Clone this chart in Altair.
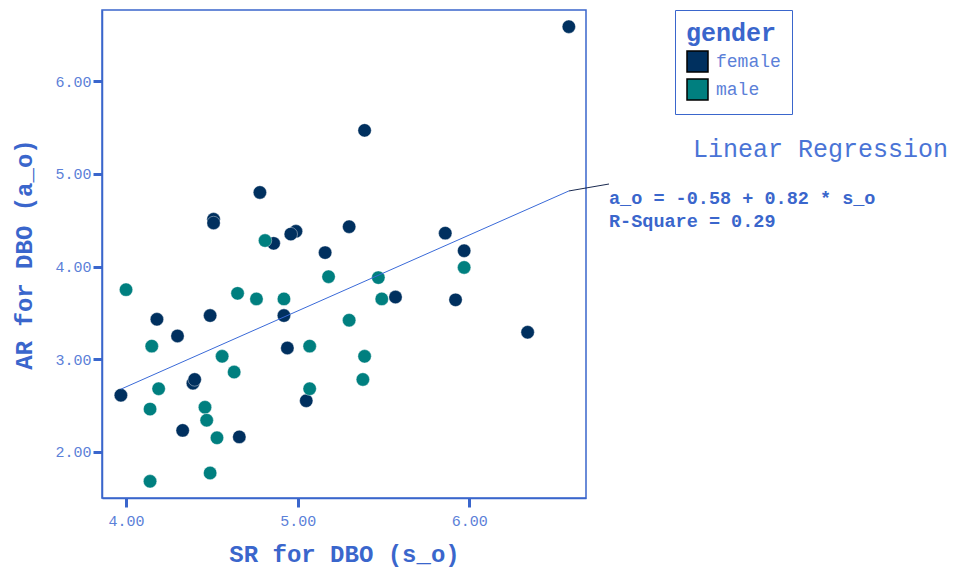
import altair as alt
import pandas as pd

# ---- data ----
female_s = [6.58, 5.39, 4.78, 4.51, 4.51, 4.99, 4.96, 4.86, 5.30, 5.16, 5.86, 5.97, 5.57,
            5.92, 6.34, 4.18, 4.49, 4.30, 4.92, 4.94, 4.39, 4.40, 3.97, 5.05, 4.33, 4.66]
female_a = [6.59, 5.47, 4.80, 4.51, 4.47, 4.38, 4.35, 4.25, 4.43, 4.15, 4.36, 4.17, 3.67,
            3.64, 3.29, 3.43, 3.47, 3.25, 3.47, 3.12, 2.74, 2.78, 2.61, 2.55, 2.23, 2.16]
male_s = [4.81, 4.00, 4.65, 4.76, 4.92, 5.18, 5.30, 4.15, 5.07, 4.56, 4.63, 4.19, 5.07,
          4.14, 4.46, 4.47, 4.53, 4.14, 4.49, 5.97, 5.47, 5.49, 5.39, 5.38]
male_a = [4.28, 3.75, 3.71, 3.65, 3.65, 3.89, 3.42, 3.14, 3.14, 3.03, 2.86, 2.68, 2.68,
          2.46, 2.48, 2.34, 2.15, 1.68, 1.77, 3.99, 3.88, 3.65, 3.03, 2.78]
genders = ["female", "male"]
intercept = -0.58
slope = 0.82
r_square = 0.29
x_ticks = [4, 5, 6]
y_ticks = [2, 3, 4, 5, 6]

NAVY = "#00305f"
TEAL = "#007f7f"
BLUE = "#3a66cc"
LIGHT = "#5b80d8"
FONT = "Liberation Mono"

df = pd.DataFrame({
    "s_o": female_s + male_s,
    "a_o": female_a + male_a,
    "gender": [genders[0]] * len(female_s) + [genders[1]] * len(male_s),
})

xmin, xmax = min(df["s_o"]), max(df["s_o"])
reg = pd.DataFrame({"s_o": [xmin, xmax], "a_o": [intercept + slope * xmin, intercept + slope * xmax]})
end = reg.tail(1)

xs = alt.Scale(domain=[3.86, 6.68], nice=False, zero=False)
ys = alt.Scale(domain=[1.5, 6.77], nice=False, zero=False)
X = alt.X("s_o:Q", scale=xs, title="SR for DBO (s_o)", axis=alt.Axis(values=x_ticks, format=".2f"))
Y = alt.Y("a_o:Q", scale=ys, title="AR for DBO (a_o)", axis=alt.Axis(values=y_ticks, format=".2f"))

points = alt.Chart(df).mark_circle(size=180, opacity=1, stroke="white", strokeWidth=0.4).encode(
    x=X, y=Y,
    color=alt.Color("gender:N", scale=alt.Scale(domain=genders, range=[NAVY, TEAL]),
                    legend=alt.Legend(title="gender", orient="none", legendX=573, legendY=0,
                                      symbolType="square", symbolSize=441,
                                      symbolStrokeColor="black", symbolStrokeWidth=1.5,
                                      symbolOpacity=1, padding=11, rowPadding=1,
                                      titlePadding=4, labelOffset=7,
                                      strokeColor=BLUE, fillColor="white",
                                      titleFont=FONT, titleFontSize=25, titleFontWeight="bold",
                                      titleColor=BLUE, labelFont=FONT, labelFontSize=18,
                                      labelColor=LIGHT)),
)

line = alt.Chart(reg).mark_line(color="#3a6ad8", strokeWidth=1).encode(x=X, y=Y)

leader = alt.Chart(end).mark_rule(color="#1a2a50", strokeWidth=1).encode(
    x=X, y=Y, x2=alt.value(507), y2=alt.value(174))

title_txt = alt.Chart(pd.DataFrame({"t": ["Linear Regression"]})).mark_text(
    font=FONT, fontSize=25, color="#4a74d6", align="left", baseline="middle").encode(
    text="t:N", x=alt.value(591), y=alt.value(139))

eq1 = alt.Chart(pd.DataFrame({"t": [f"a_o = {intercept:.2f} + {slope:.2f} * s_o"]})).mark_text(
    font=FONT, fontSize=18.5, fontWeight="bold", color=BLUE, align="left", baseline="middle").encode(
    text="t:N", x=alt.value(507), y=alt.value(188))
eq2 = alt.Chart(pd.DataFrame({"t": [f"R-Square = {r_square:.2f}"]})).mark_text(
    font=FONT, fontSize=18.5, fontWeight="bold", color=BLUE, align="left", baseline="middle").encode(
    text="t:N", x=alt.value(507), y=alt.value(211))

chart = alt.layer(points, line, leader, title_txt, eq1, eq2).properties(
    width=484, height=488,
    autosize=alt.AutoSizeParams(type="none"),
    padding={"left": 94, "top": 2, "right": 363, "bottom": 70},
).configure_view(
    stroke=BLUE, strokeWidth=1.5
).configure_axis(
    grid=False, domainColor=BLUE, domainWidth=1.5, tickColor=BLUE, tickWidth=3, tickSize=9,
    labelFont=FONT, labelFontSize=15, labelColor=LIGHT, labelPadding=6,
    titleFont=FONT, titleFontSize=24, titleFontWeight="bold", titleColor=BLUE,
).configure_axisX(titlePadding=14).configure_axisY(titlePadding=18, labelPadding=2)

chart.save("out.html", embed_options={"renderer": "svg", "actions": False})
